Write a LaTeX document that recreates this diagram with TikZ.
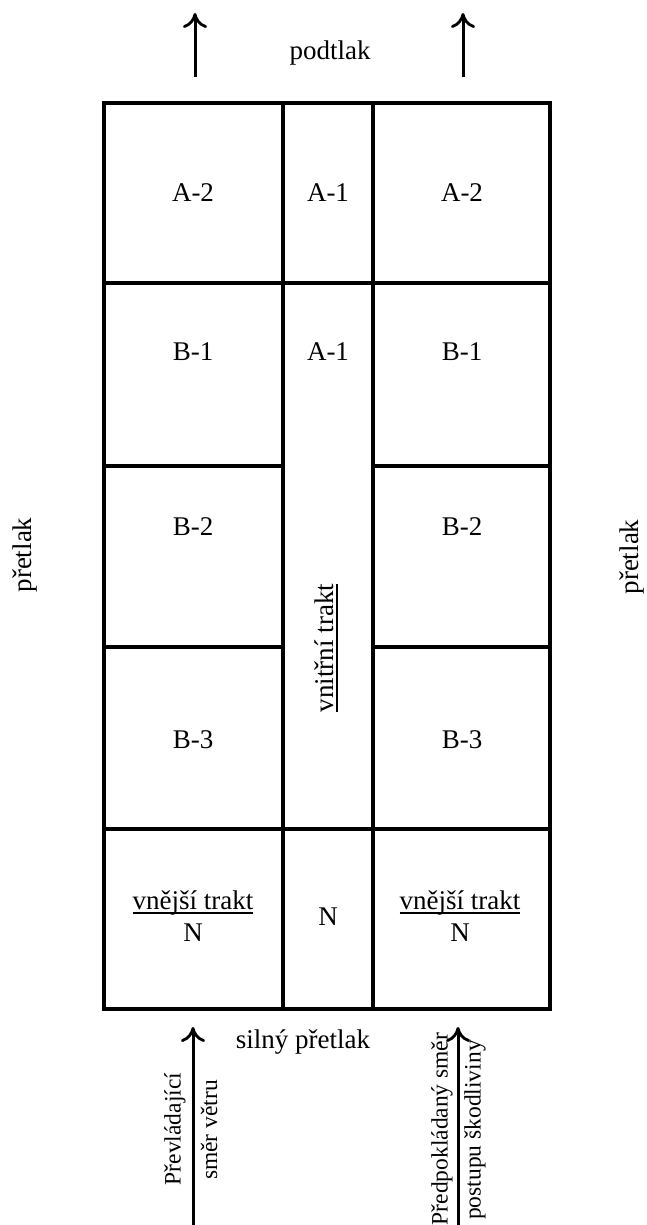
\documentclass[tikz,border=0pt]{standalone}
\usepackage{fontspec}
\setmainfont{Liberation Serif}
\usetikzlibrary{arrows.meta}
\newcommand\myul[1]{\setbox0\hbox{#1}\rlap{\rule[-4.5pt]{\wd0}{1.8pt}}\box0}
\begin{document}
\begin{tikzpicture}[x=1pt,y=-1pt,
  grid/.style={line width=3.2pt,line cap=rect},
  arr/.style={line width=3pt,-{Computer Modern Rightarrow[length=15pt,width=24pt,line width=2.8pt]}},
  lbl/.style={font=\fontsize{27}{30}\selectfont,inner sep=0pt},
  slbl/.style={font=\fontsize{23.5}{26}\selectfont,inner sep=0pt,rotate=90}]
\useasboundingbox (0,0) rectangle (646,1225);
% outer frame and grid
\draw[grid] (104,103) rectangle (550,1009);
\draw[grid] (283,103) -- (283,1009);
\draw[grid] (373,103) -- (373,1009);
\draw[grid] (104,283) -- (550,283);
\draw[grid] (104,829) -- (550,829);
\draw[grid] (104,466) -- (283,466);
\draw[grid] (373,466) -- (550,466);
\draw[grid] (104,647) -- (283,647);
\draw[grid] (373,647) -- (550,647);
% cell labels
\node[lbl] (a2l) at (193,193) {A-2};
\node[lbl] (a1t) at (328,193) {A-1};
\node[lbl] (a2r) at (462,193) {A-2};
\node[lbl] (b1l) at (193,352) {B-1};
\node[lbl] (a1m) at (328,352) {A-1};
\node[lbl] (b1r) at (462,352) {B-1};
\node[lbl] (b2l) at (193,527) {B-2};
\node[lbl] (b2r) at (462,527) {B-2};
\node[lbl] (b3l) at (193,740) {B-3};
\node[lbl] (b3r) at (462,740) {B-3};
\node[lbl,rotate=90] (vt) at (326,648) {\myul{vnitřní trakt}};
\node[lbl] (vel) at (193,903) {\myul{vnější trakt}};
\node[lbl] (nl) at (193,933) {N};
\node[lbl] (nm) at (328,917) {N};
\node[lbl] (ver) at (460,903) {\myul{vnější trakt}};
\node[lbl] (nr) at (460,933) {N};
% outside labels
\node[lbl] (podtlak) at (330,53) {podtlak};
\node[lbl] (silny) at (303,1042) {silný přetlak};
\node[lbl,rotate=90] (pl) at (25,555) {přetlak};
\node[lbl,rotate=90] (pr) at (632,557) {přetlak};
% top arrows
\coordinate (t1s) at (195,77);
\coordinate (t1e) at (195,13);
\coordinate (t2s) at (463,77);
\coordinate (t2e) at (463,13);
\draw[arr] (t1s) -- (t1e);
\draw[arr] (t2s) -- (t2e);
% bottom arrows
\coordinate (b1s) at (193,1225);
\coordinate (b1e) at (193,1027);
\coordinate (b2s) at (458,1225);
\coordinate (b2e) at (458,1027);
\draw[arr] (b1s) -- (b1e);
\draw[arr] (b2s) -- (b2e);
% bottom rotated labels
\node[slbl] (prev) at (175,1129) {Převládající};
\node[slbl] (smer) at (209,1130) {směr větru};
\node[slbl] (pred) at (442,1129) {Předpokládaný směr};
\node[slbl] (post) at (475,1130) {postupu škodliviny};
\end{tikzpicture}
\end{document}
